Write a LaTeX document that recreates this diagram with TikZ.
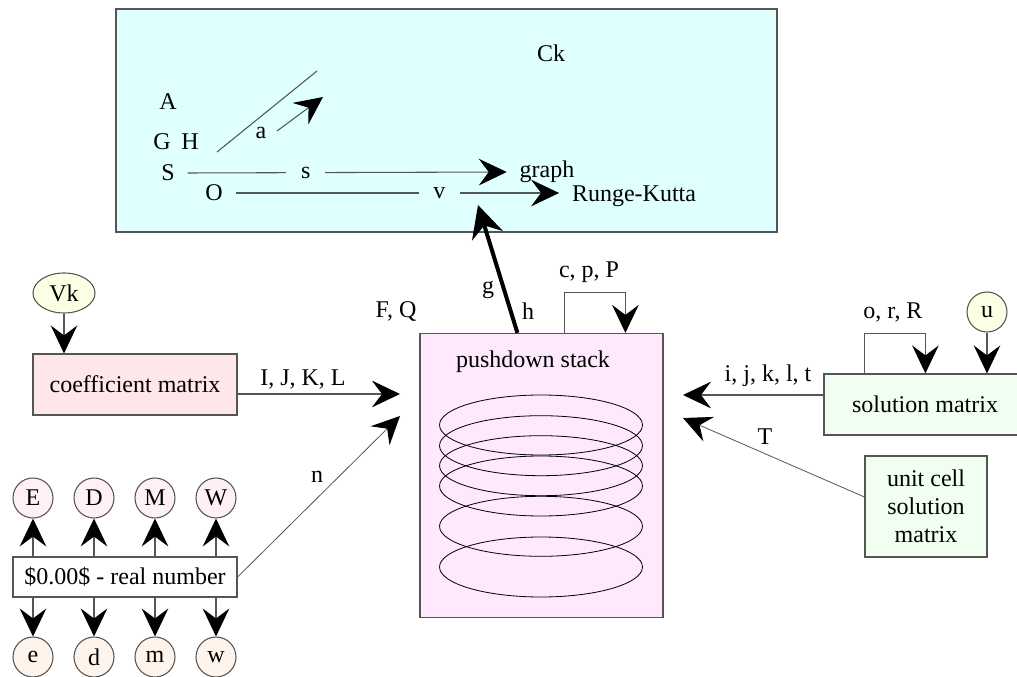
\documentclass[tikz,border=0pt]{standalone}
\usepackage{fontspec}
\setmainfont{Liberation Serif}
\usetikzlibrary{arrows.meta,shapes.geometric,calc}
\definecolor{cyanbg}{HTML}{E0FFFF}
\definecolor{stackbg}{HTML}{FEE8FE}
\definecolor{coefbg}{HTML}{FFE6EA}
\definecolor{yelbg}{HTML}{FCFFE4}
\definecolor{upbg}{HTML}{FFF0F3}
\definecolor{lowbg}{HTML}{FFF4EC}
\definecolor{greenbg}{HTML}{F0FFF0}
\definecolor{linec}{HTML}{555555}
\begin{document}
\begin{tikzpicture}[x=0.75pt,y=-0.75pt,
  font=\fontsize{18}{21}\selectfont,
  box/.style={draw=linec, line width=0.9pt, inner sep=0pt},
  circ/.style={draw=linec, line width=0.8pt, circle, minimum size=30pt, inner sep=0pt},
  edge/.style={draw=linec, line width=0.8pt},
  tip/.style={-{Stealth[length=21pt,width=20pt,inset=7.5pt,color=black]}},
  arr/.style={edge, tip},
  thickarr/.style={draw=black, line width=3pt, -{Stealth[length=24pt,width=24pt,inset=8pt]}},
  txt/.style={inner sep=1pt},
  endtxt/.style={inner xsep=9.5pt, inner ysep=1pt},
  gaplbl/.style={fill=cyanbg, inner xsep=11pt, inner ysep=1pt}
]
\path[use as bounding box, clip] (0,0) rectangle (1017,677);

% top box
\node[box, fill=cyanbg, minimum width=495.75pt, minimum height=167.25pt] (top) at (446.5,120.5) {};
\node[txt] (Ck) at (551,53) {Ck};
\node[txt] (A) at (168,102) {A};
\node[txt] (GH) at (176,142) {G\hspace{0.45em}H};
\node[endtxt] (S) at (168,173) {S};
\node[endtxt] (O) at (214,193) {O};
\node[endtxt] (graph) at (547,172) {graph};
\node[endtxt] (RK) at (634,196) {Runge-Kutta};
\coordinate (d1) at (217,152);
\coordinate (d2) at (317,71);
\draw[edge] (d1) -- (d2);
\coordinate (a1) at (277,131);
\coordinate (a2) at (323,97);
\draw[arr] (a1) -- (a2);
\node[txt] (alab) at (261,133) {a};
\draw[arr] (S.east) -- node[gaplbl, pos=0.37] (slab) {s} (graph.west);
\draw[arr] (O.east) -- node[gaplbl, pos=0.63] (vlab) {v} (O.east -| RK.west);

% stack
\node[box, fill=stackbg, minimum width=182.25pt, minimum height=213pt] (stack) at (541.5,475.5) {};
\node[txt] (pst) at (533,362) {pushdown stack};
\foreach \cy in {425,445.7,465.7,486,526.3,567} {
  \draw[line width=0.6pt] (541,\cy) ellipse [x radius=76.1pt, y radius=22.5pt];
}
\coordinate (gtip) at (478,205);
\draw[thickarr] ($(stack.north west)+(98,0)$) -- (gtip);
\node[txt] (g) at (488,290) {g};
\node[txt] (h) at (528,311) {h};
\draw[arr] ($(stack.north west)+(145,0)$) -- ++(0,-40) -| ($(stack.north west)+(206,0)$);
\node[txt] (cpP) at (589,272) {c, p, P};
\node[txt] (FQ) at (396,311) {F, Q};

% coefficient matrix
\node[box, fill=coefbg, minimum width=153pt, minimum height=45.75pt] (coef) at (135,384.5) {coefficient matrix};
\node[draw=linec, line width=0.8pt, ellipse, fill=yelbg, minimum width=46.5pt, minimum height=30pt, inner sep=0pt] (Vk) at (64,293) {Vk};
\draw[arr] (Vk.south) -- (Vk.south |- coef.north);
\coordinate (in1) at (400,394);
\draw[arr] (coef.east |- in1) -- (in1);
\node[txt] (IJKL) at (303,379) {I, J, K, L};

% real number
\node[box, fill=white, minimum width=168pt, minimum height=30pt] (real) at (125,577) {\$0.00\$ - real number};
\foreach \n/\t/\x in {E/E/33, D/D/94, M/M/155, W/W/216} {
  \node[circ, fill=upbg] (\n) at (\x,498) {\t};
  \draw[arr] (real.north -| \n) -- (\n.south);
}
\foreach \n/\t/\x in {le/e/33, ld/d/94, lm/m/155, lw/w/216} {
  \node[circ, fill=lowbg] (\n) at (\x,657) {\t};
  \draw[arr] (real.south -| \n) -- (\n.north);
}
\coordinate (in2) at (400,416);
\draw[edge, tip, line width=0.6pt] (real.east) -- (in2);
\node[txt] (nlab) at (317,477) {n};

% solution matrix
\node[box, fill=greenbg, minimum width=151.5pt, minimum height=45.75pt] (sol) at (925,404.5) {solution matrix};
\node[circ, fill=yelbg] (u) at (987,312) {u};
\draw[arr] (u.south) -- (u.south |- sol.north);
\draw[arr] ($(sol.north west)+(41,0)$) -- ++(0,-40) -| ($(sol.north west)+(102,0)$);
\node[txt] (orR) at (893,312) {o, r, R};
\coordinate (in3) at (683,395);
\draw[arr] (sol.west |- in3) -- (in3);
\node[txt] (ijklt) at (768,376) {i, j, k, l, t};

% unit cell
\node[box, fill=greenbg, minimum width=91.5pt, minimum height=75.75pt, align=center] (unit) at (926,506.5) {unit cell\\solution\\matrix};
\coordinate (in4) at (683,418);
\draw[edge, tip, line width=0.6pt] (unit.west |- 0,497) -- (in4);
\node[txt] (Tlab) at (765,437) {T};
\end{tikzpicture}
\end{document}
